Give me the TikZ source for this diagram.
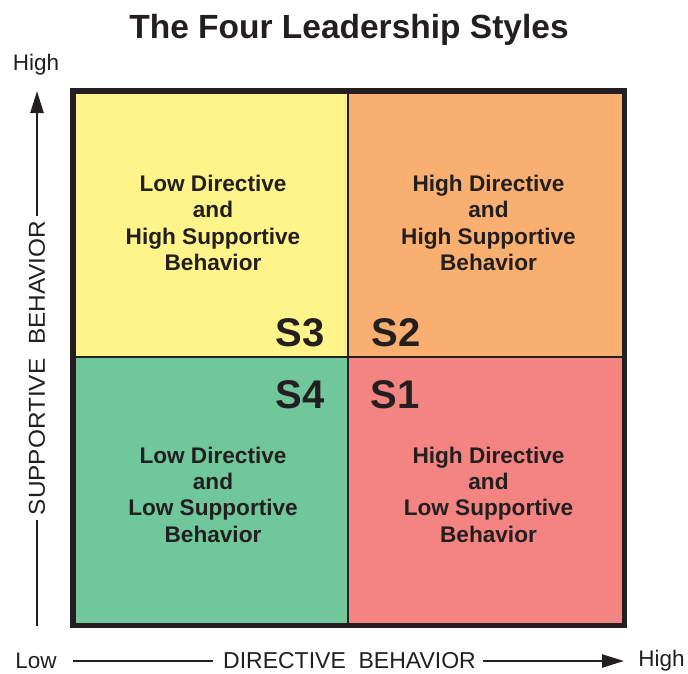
\documentclass[tikz,border=0pt]{standalone}
\usepackage{fontspec}
\setmainfont{Liberation Sans}
\usetikzlibrary{arrows.meta}
\definecolor{ink}{HTML}{231F20}
\definecolor{qyellow}{HTML}{FEF48A}
\definecolor{qorange}{HTML}{F8AF70}
\definecolor{qgreen}{HTML}{70C79C}
\definecolor{qred}{HTML}{F48481}
\tikzset{
  quadtext/.style={font=\fontsize{22.6}{26.3}\selectfont\bfseries, text=ink, align=center, inner sep=0pt},
  slabel/.style={font=\fontsize{40}{40}\selectfont\bfseries, text=ink, inner sep=0pt},
  axislabel/.style={font=\fontsize{23}{24}\selectfont, text=ink, inner sep=0pt},
  axisline/.style={draw=ink, line width=2.4pt},
  endlabel/.style={font=\fontsize{22.5}{24}\selectfont, text=ink, inner sep=0pt}
}
\begin{document}
\begin{tikzpicture}[x=1pt,y=-1pt]
\useasboundingbox (0,0) rectangle (688,673);
% quadrants
\fill[qyellow] (73,91) rectangle (348,357);
\fill[qorange] (348,91) rectangle (624.5,357);
\fill[qgreen] (73,357) rectangle (348,625.5);
\fill[qred] (348,357) rectangle (624.5,625.5);
\draw[ink, line width=2.6pt] (348,91) -- (348,625.5);
\draw[ink, line width=2.6pt] (73,357) -- (624.5,357);
\draw[ink, line width=5.8pt] (73,91) rectangle (624.5,625.5);
% title
\node[font=\fontsize{33.5}{36}\selectfont\bfseries, text=ink, inner sep=0pt] (title) at (349,29.5) {The Four Leadership Styles};
% quadrant texts
\node[quadtext] (q3) at (213,223) {Low Directive\\and\\High Supportive\\Behavior};
\node[quadtext] (q2) at (488.5,223) {High Directive\\and\\High Supportive\\Behavior};
\node[quadtext] (q4) at (213,494.5) {Low Directive\\and\\Low Supportive\\Behavior};
\node[quadtext] (q1) at (488.5,494.5) {High Directive\\and\\Low Supportive\\Behavior};
% style labels
\node[slabel] (s3) at (300,333) {S3};
\node[slabel] (s2) at (396,333) {S2};
\node[slabel] (s4) at (300,395) {S4};
\node[slabel] (s1) at (395,395) {S1};
% vertical axis
\node[endlabel] (vhigh) at (36,64.5) {High};
\coordinate (vtop) at (37,91);
\coordinate (vbot) at (37,625.5);
\node[axislabel, rotate=90, xscale=1.06, inner sep=4pt] (vlab) at (37,368) {SUPPORTIVE\ \ BEHAVIOR};
\draw[axisline] (vbot) -- (vlab.west);
\draw[axisline, -{Triangle[length=22pt,width=13pt]}] (vlab.east) -- (vtop);
% horizontal axis
\node[endlabel] (hlow) at (36,661) {Low};
\node[endlabel] (hhigh) at (661.5,661) {High};
\coordinate (hleft) at (73,661);
\coordinate (hright) at (624,661);
\node[axislabel, inner sep=0pt] (hlab) at (349.5,661) {DIRECTIVE\ \ BEHAVIOR};
\draw[axisline] (hleft) -- ([xshift=-10pt]hlab.west |- hleft);
\draw[axisline, -{Triangle[length=22pt,width=13pt]}] ([xshift=7pt]hlab.east |- hright) -- (hright);
\end{tikzpicture}
\end{document}
